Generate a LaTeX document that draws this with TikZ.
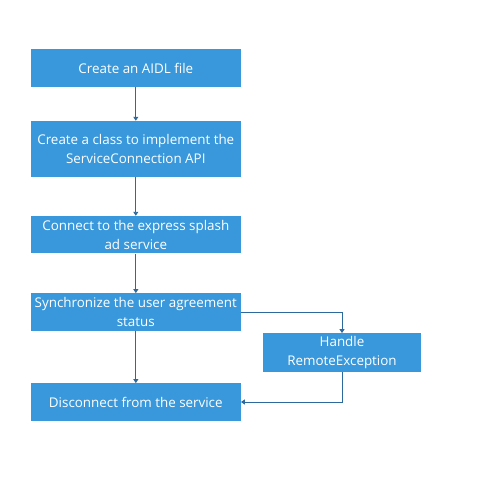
\documentclass[tikz,border=0pt]{standalone}
\usepackage{fontspec}
\setmainfont{Open Sans}
\usetikzlibrary{arrows.meta,positioning}
\definecolor{boxblue}{HTML}{3898DB}
\definecolor{lineblue}{HTML}{2C6A9E}

\begin{document}
\begin{tikzpicture}[x=1pt, y=-1pt,
        every node/.style={font=\fontsize{13.4}{19.3}\selectfont},
        stepbox/.style={fill=boxblue, text=white, align=center, inner sep=0pt,
            minimum width=209.7pt, minimum height=37.4pt},
        link/.style={draw=lineblue, line width=0.9pt, -{Triangle[length=4pt,width=5pt]}}]
        \useasboundingbox (0,0) rectangle (485,496);
        % Draw main steps
        \node[stepbox] (aidl) at (135.8,68) {Create an AIDL file};
        \node[stepbox, minimum height=55.7pt] (impl) at (135.8,148.8)
            {Create a class to implement the\\ServiceConnection API};
        \node[stepbox] (conn) at (135.8,234.7) {Connect to the express splash\\ad service};
        \node[stepbox] (sync) at (135.8,312) {Synchronize the user agreement\\status};
        \node[stepbox] (disc) at (135.8,402) {Disconnect from the service};
        % Draw exception branch
        \node[stepbox, minimum width=157.4pt, minimum height=38.4pt] (exc) at (342,352.5)
            {Handle\\RemoteException};
        \draw[link] (aidl) -- (impl);
        \draw[link] (impl) -- (conn);
        \draw[link] (conn) -- (sync);
        \draw[link] (sync) -- (disc);
        \draw[link] (sync.east) -| (exc.north);
        \draw[link] (exc.south) |- (disc.east);
\end{tikzpicture}
\end{document}
